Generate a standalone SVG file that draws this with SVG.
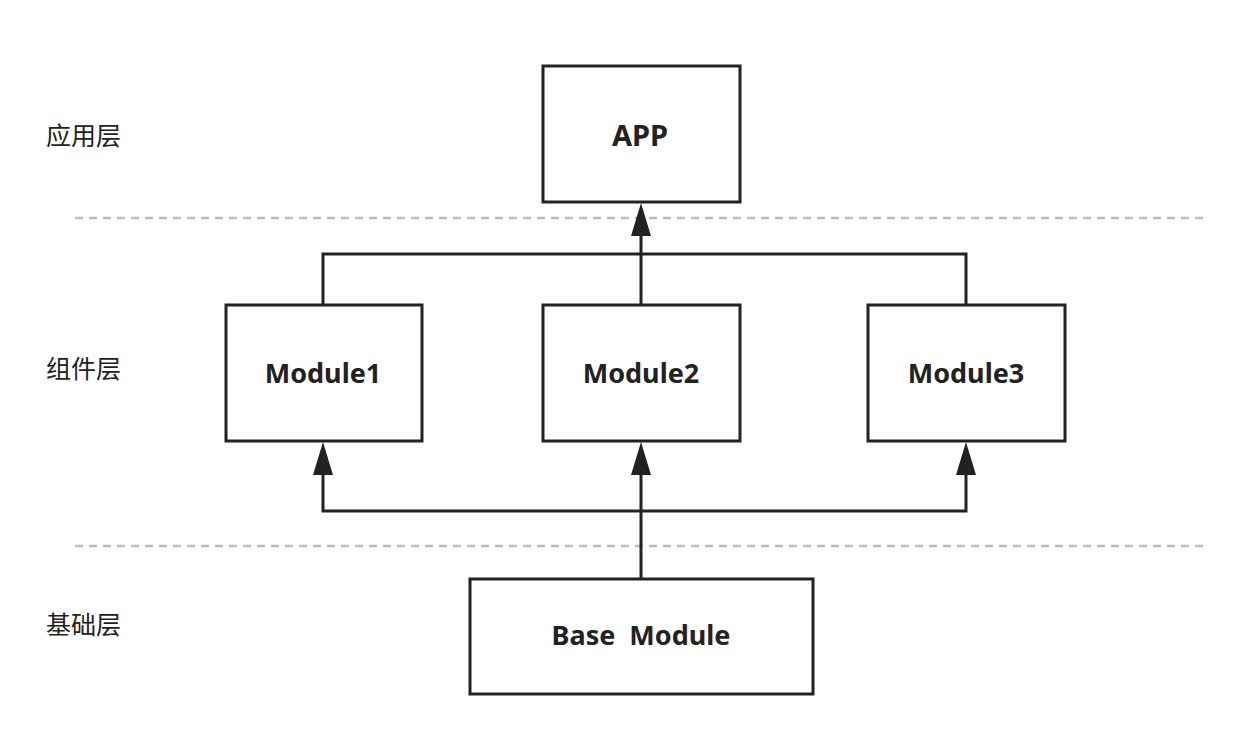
<svg xmlns="http://www.w3.org/2000/svg" width="1252" height="738" viewBox="0 0 1252 738">
  <defs>
    <style>
      .box { fill: #fff; stroke: #222; stroke-width: 3; }
      .lbl { font-family: "Noto Sans", "Liberation Sans", sans-serif; font-weight: bold; font-size: 27px; fill: #222; text-anchor: middle; }
      .layer { font-family: "Noto Sans CJK SC", sans-serif; font-size: 25px; fill: #222; }
      .wire { fill: none; stroke: #222; stroke-width: 3; }
      .sep { stroke: #bbb; stroke-width: 2.5; stroke-dasharray: 8 6; }
      .head { fill: #222; }
    </style>
  </defs>
  <rect width="1252" height="738" fill="#fff"/>

  <!-- layer separators -->
  <line class="sep" x1="75" y1="218" x2="1207" y2="218"/>
  <line class="sep" x1="75" y1="546" x2="1207" y2="546"/>

  <!-- layer names -->
  <text class="layer" x="46" y="145">应用层</text>
  <text class="layer" x="46" y="378">组件层</text>
  <text class="layer" x="46" y="634">基础层</text>

  <!-- connectors -->
  <g id="connectors">
    <polyline class="wire" points="323,305 323,254 966,254 966,305"/>
    <line class="wire" x1="641" y1="305" x2="641" y2="222"/>
    <path class="head" d="M641,203 L651,236 L631,236 Z"/>
    <line class="wire" x1="641" y1="579" x2="641" y2="468"/>
    <polyline class="wire" points="323,468 323,511 966,511 966,468"/>
    <path class="head" d="M323,442 L333,475 L313,475 Z"/>
    <path class="head" d="M641,442 L651,475 L631,475 Z"/>
    <path class="head" d="M966,442 L976,475 L956,475 Z"/>
  </g>

  <g id="app">
    <rect class="box" x="543" y="66" width="197" height="136"/>
    <text class="lbl" x="640" y="146" style="font-size:29px">APP</text>
  </g>
  <g id="module1">
    <rect class="box" x="226" y="305" width="196" height="136"/>
    <text class="lbl" x="323" y="383">Module1</text>
  </g>
  <g id="module2">
    <rect class="box" x="543" y="305" width="197" height="136"/>
    <text class="lbl" x="641" y="383">Module2</text>
  </g>
  <g id="module3">
    <rect class="box" x="868" y="305" width="197" height="136"/>
    <text class="lbl" x="966" y="383">Module3</text>
  </g>
  <g id="base-module">
    <rect class="box" x="470" y="579" width="343" height="115"/>
    <text class="lbl" x="641" y="645" xml:space="preserve">Base  Module</text>
  </g>
</svg>
